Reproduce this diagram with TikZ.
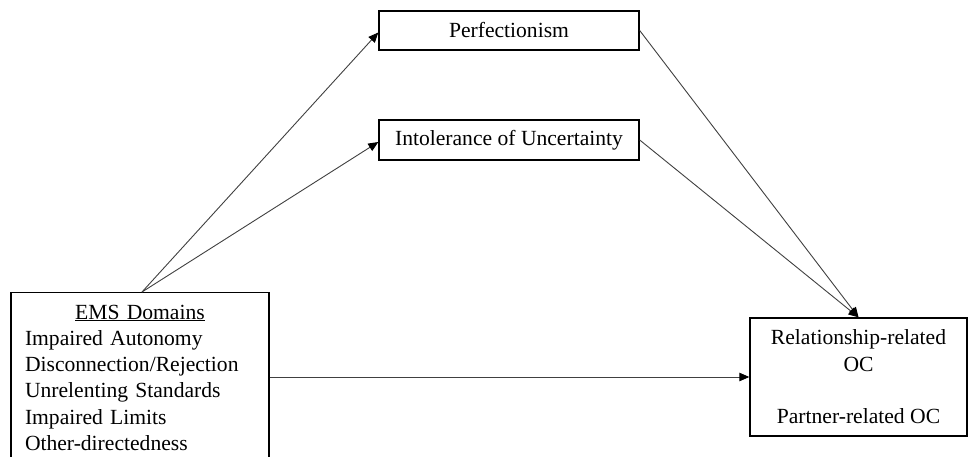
\documentclass[tikz,border=0pt]{standalone}
\usepackage{fontspec}
\setmainfont{Liberation Serif}
\usetikzlibrary{arrows.meta,positioning}

\begin{document}
\begin{tikzpicture}[x=1pt, y=-1pt,
      box/.style={draw=black, line width=1.4pt, inner sep=0pt, align=center, font=\fontsize{21.6}{26.3}\selectfont},
      link/.style={draw=black!75, line width=0.9pt, -{Triangle[length=10pt, width=8.5pt, color=black]}}
    ]
      \useasboundingbox (0,0) rectangle (968,457);

      \node[box, minimum width=260pt, minimum height=39pt] (perf) at (509, 30.5) {Perfectionism};
      \node[box, minimum width=260pt, minimum height=40pt] (intol) at (509, 140) {Intolerance of Uncertainty};

      \node[box, anchor=north, minimum width=258pt, text width=230pt, align=left, inner ysep=12pt] (ems) at (140, 292) {
        \hfil\underline{EMS Domains}\hfil\\
        Impaired Autonomy\\
        Disconnection/Rejection\\
        Unrelenting Standards\\
        Impaired Limits\\
        Other-directedness
      };

      \node[box, minimum width=217pt, minimum height=118pt] (oc) at (858.5, 377) {
        Relationship-related\\
        OC\\[\baselineskip]
        Partner-related OC
      };

      \draw[link] ([xshift=2pt]ems.north) -- ([yshift=-2pt]perf.west);
      \draw[link] ([xshift=2pt]ems.north) -- ([yshift=-2pt]intol.west);
      \draw[link] (perf.east) -- (oc.north);
      \draw[link] (intol.east) -- (oc.north);
      \draw[link] (ems.east |- oc.west) -- (oc.west);
    \end{tikzpicture}
\end{document}
